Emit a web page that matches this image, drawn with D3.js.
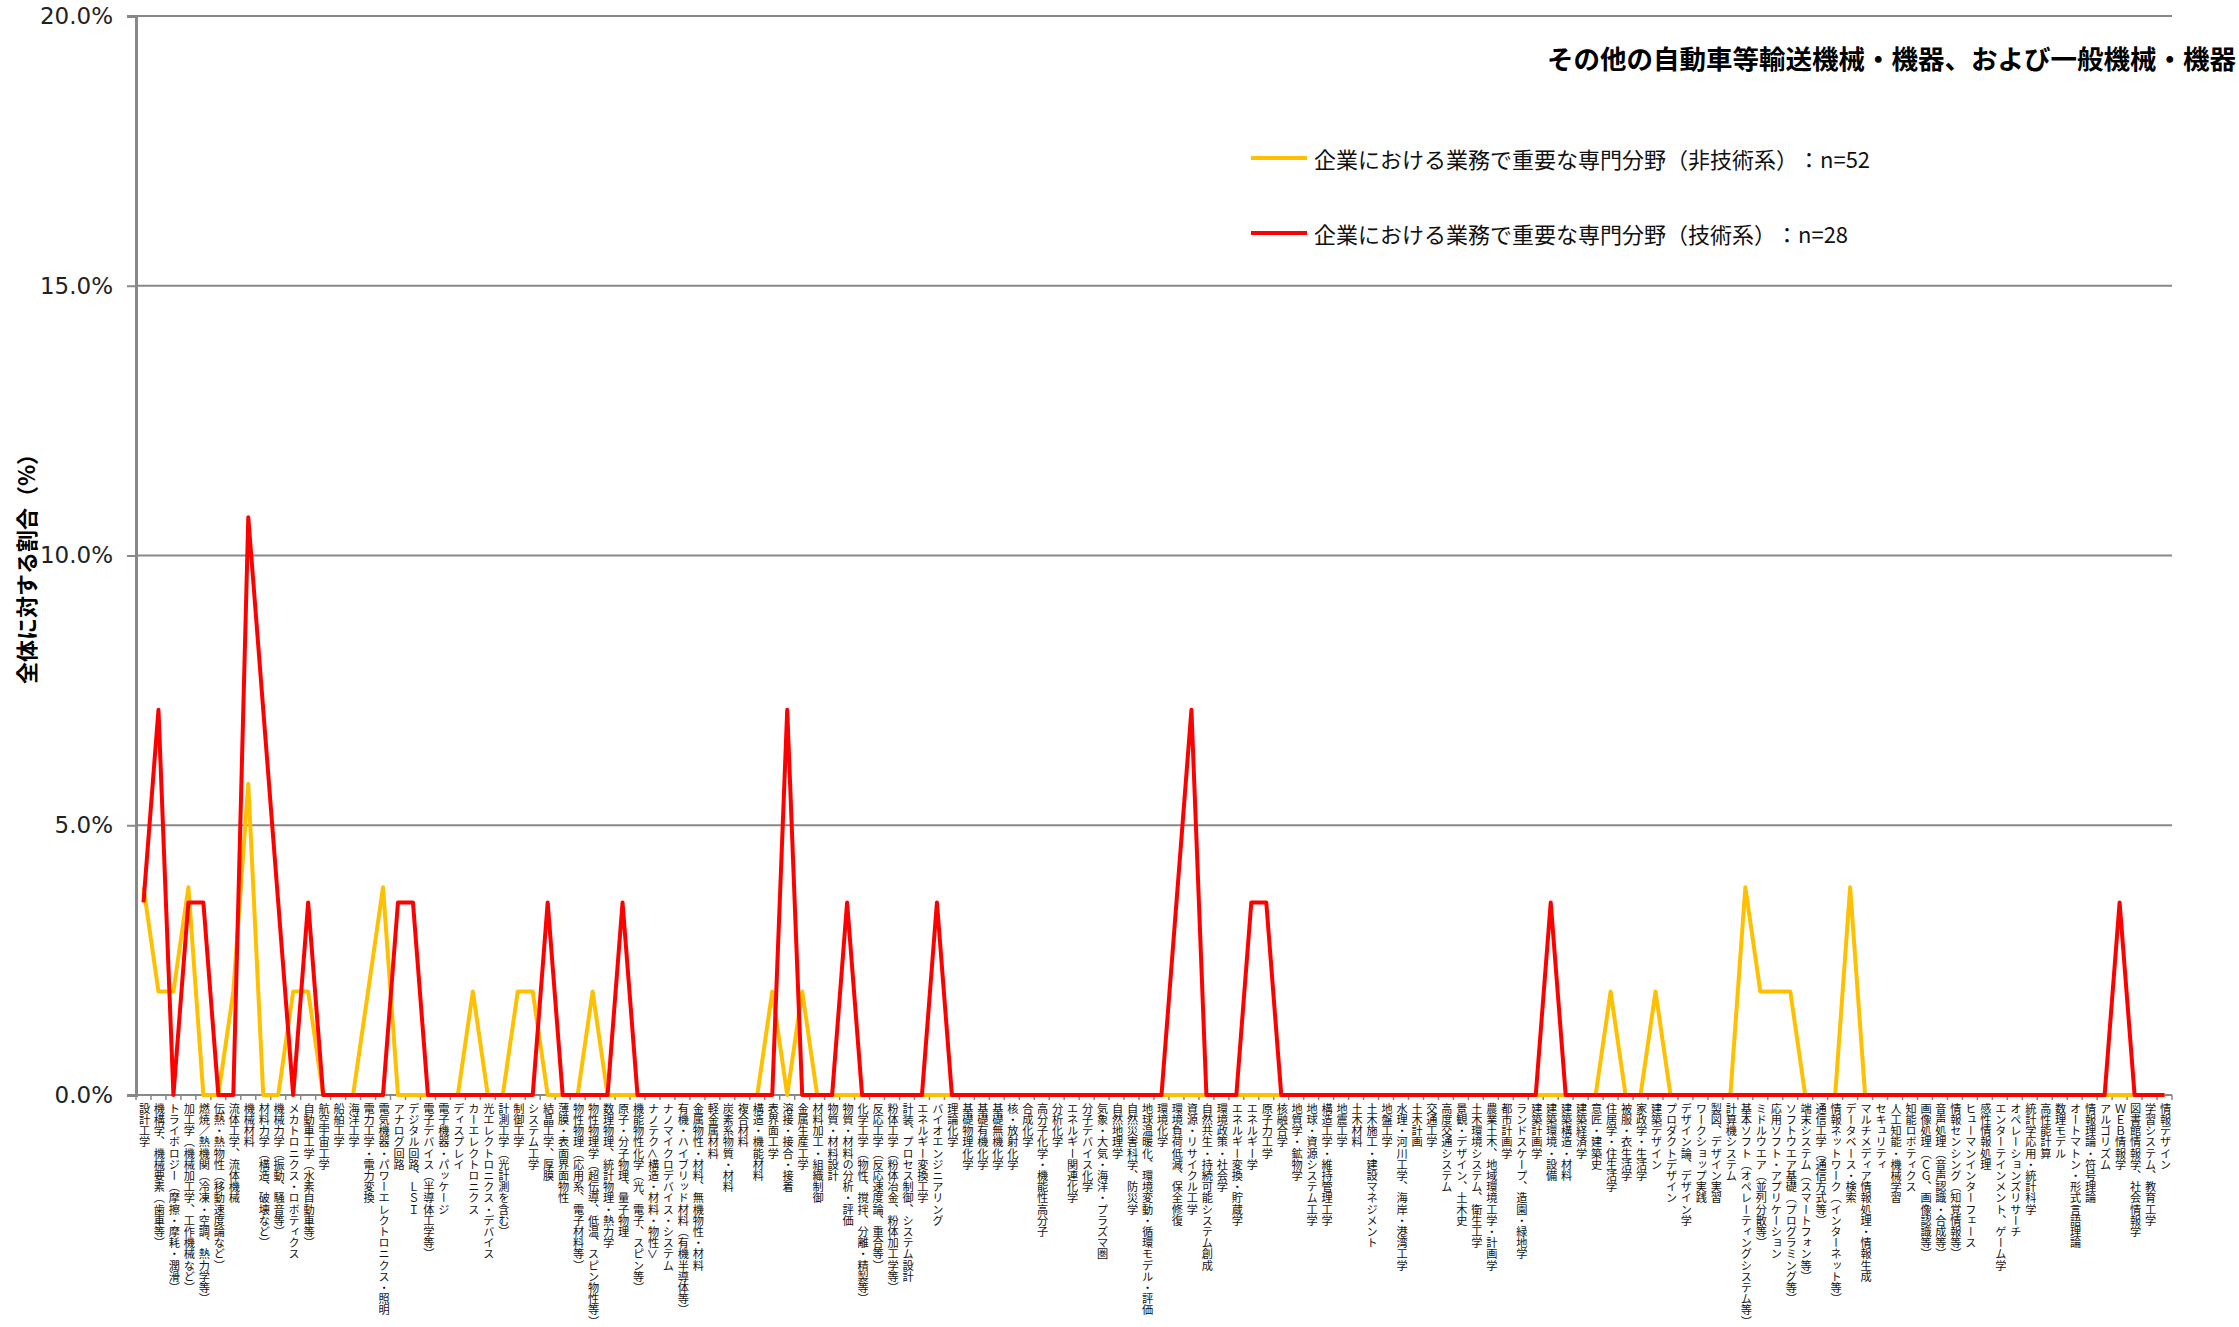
<!DOCTYPE html>
<html>
<head>
<meta charset="utf-8">
<script src="https://cdn.jsdelivr.net/npm/d3@7"></script>
<style>
  html, body { margin: 0; padding: 0; background: #ffffff; }
  svg { display: block; }
  svg text { text-spacing-trim: space-all; }
  .xlab { writing-mode: vertical-rl; text-orientation: mixed; }
</style>
</head>
<body>
<svg id="chart" width="2239" height="1327"></svg>
<script>
const categories = [
  "設計工学","機構学、機械要素（歯車等）","トライボロジー（摩擦・摩耗・潤滑）","加工学（機械加工学、工作機械など）",
  "燃焼／熱機関（冷凍・空調、熱力学等）","伝熱・熱物性（移動速度論など）","流体工学、流体機械","機械材料",
  "材料力学（構造、破壊など）","機械力学（振動、騒音等）","メカトロニクス・ロボティクス","自動車工学（水素自動車等）",
  "航空宇宙工学","船舶工学","海洋工学","電力工学・電力変換","電気機器・パワーエレクトロニクス・照明",
  "アナログ回路","デジタル回路、ＬＳＩ","電子デバイス（半導体工学等）","電子機器・パッケージ","ディスプレイ",
  "カーエレクトロニクス","光エレクトロニクス・デバイス","計測工学（光計測を含む）","制御工学","システム工学",
  "結晶工学、厚膜","薄膜・表面界面物性","物性物理（応用系、電子材料等）","物性物理学（超伝導、低温、スピン物性等）",
  "数理物理、統計物理・熱力学","原子・分子物理、量子物理","機能物性化学（光、電子、スピン等）",
  "ナノテク＜構造・材料・物性＞","ナノマイクロデバイス・システム","有機・ハイブリッド材料（有機半導体等）",
  "金属物性・材料、無機物性・材料","軽金属材料","炭素系物質・材料","複合材料","構造・機能材料","表界面工学",
  "溶接・接合・接着","金属生産工学","材料加工・組織制御","物質・材料設計","物質・材料の分析・評価",
  "化学工学（物性、撹拌、分離・精製等）","反応工学（反応速度論、重合等）","粉体工学（粉体冶金、粉体加工学等）",
  "計装、プロセス制御、システム設計","エネルギー変換工学","バイオエンジニアリング","理論化学","基礎物理化学",
  "基礎有機化学","基礎無機化学","核・放射化学","合成化学","高分子化学・機能性高分子","分析化学",
  "エネルギー関連化学","分子デバイス化学","気象・大気・海洋・プラズマ圏","自然地理学","自然災害科学、防災学",
  "地球温暖化、環境変動・循環モデル・評価","環境化学","環境負荷低減、保全修復","資源・リサイクル工学",
  "自然共生・持続可能システム創成","環境政策・社会学","エネルギー変換・貯蔵学","エネルギー学","原子力工学",
  "核融合学","地質学・鉱物学","地球・資源システム工学","構造工学・維持管理工学","地震工学","土木材料",
  "土木施工・建設マネジメント","地盤工学","水理・河川工学、海岸・港湾工学","土木計画","交通工学",
  "高度交通システム","景観・デザイン、土木史","土木環境システム、衛生工学","農業土木、地域環境工学・計画学",
  "都市計画学","ランドスケープ、造園・緑地学","建築計画学","建築環境・設備","建築構造・材料","建築経済学",
  "意匠・建築史","住居学・住生活学","被服・衣生活学","家政学・生活学","建築デザイン","プロダクトデザイン",
  "デザイン論、デザイン学","ワークショップ実践","製図、デザイン実習","計算機システム",
  "基本ソフト（オペレーティングシステム等）","ミドルウエア（並列分散等）","応用ソフト・アプリケーション",
  "ソフトウエア基礎（プログラミング等）","端末システム（スマートフォン等）","通信工学（通信方式等）",
  "情報ネットワーク（インターネット等）","データベース・検索","マルチメディア情報処理・情報生成","セキュリティ",
  "人工知能・機械学習","知能ロボティクス","画像処理（ＣＧ、画像認識等）","音声処理（音声認識・合成等）",
  "情報センシング（知覚情報等）","ヒューマンインターフェース","感性情報処理","エンターテインメント、ゲーム学",
  "オペレーションズリサーチ","統計学応用・統計科学","高性能計算","数理モデル","オートマトン・形式言語理論",
  "情報理論・符号理論","アルゴリズム","ＷＥＢ情報学","図書館情報学、社会情報学","学習システム、教育工学","情報デザイン"
];

// 企業における業務で重要な専門分野（非技術系）：n=52  (%)
const nonTechPct = [
  3.85,1.92,1.92,3.85,0,0,1.92,5.77,0,0,1.92,1.92,0,0,0,1.92,3.85,
  0,0,0,0,0,1.92,0,0,1.92,1.92,0,0,0,1.92,0,0,0,
  0,0,0,0,0,0,0,0,1.92,0,1.92,0,0,0,0,0,0,
  0,0,0,0,0,0,0,0,0,0,0,0,0,0,0,0,0,
  0,0,0,0,0,0,0,0,0,0,0,0,0,0,0,0,0,
  0,0,0,0,0,0,0,0,0,0,0,0,0,1.92,0,0,1.92,
  0,0,0,0,0,3.85,1.92,1.92,1.92,0,0,0,3.85,0,0,0,0,
  0,0,0,0,0,0,0,0,0,0,0,0,0,0,0,0,0
];

// 企業における業務で重要な専門分野（技術系）：n=28  (%)
const techPct = [
  3.57,7.14,0,3.57,3.57,0,0,10.71,7.14,3.57,0,3.57,0,0,0,0,0,
  3.57,3.57,0,0,0,0,0,0,0,0,3.57,0,0,0,0,3.57,0,
  0,0,0,0,0,0,0,0,0,7.14,0,0,0,3.57,0,0,0,
  0,0,3.57,0,0,0,0,0,0,0,0,0,0,0,0,0,0,
  0,3.57,7.14,0,0,0,3.57,3.57,0,0,0,0,0,0,0,0,0,
  0,0,0,0,0,0,0,0,0,3.57,0,0,0,0,0,0,0,
  0,0,0,0,0,0,0,0,0,0,0,0,0,0,0,0,0,
  0,0,0,0,0,0,0,0,0,0,0,0,0,3.57,0,0,0
];

const yTicks = [0, 5, 10, 15, 20];
const seriesNames = [
  "企業における業務で重要な専門分野（非技術系）：n=52",
  "企業における業務で重要な専門分野（技術系）：n=28"
];
const seriesColors = ["#FFC000", "#FF0000"];
const chartTitle = "その他の自動車等輸送機械・機器、および一般機械・機器";
const yTitle = "全体に対する割合（%）";

const svg = d3.select("#chart");
const mLeft = 136, mRight = 2172, mTop = 16, mBottom = 1095;
const gray = "#888888";

const x = d3.scaleBand().domain(categories).range([mLeft, mRight]).padding(0);
const y = d3.scaleLinear().domain([0, 20]).range([mBottom, mTop]);
const cx = c => x(c) + x.bandwidth() / 2;

// gridlines
svg.append("g").selectAll("line").data(yTicks.filter(t => t > 0)).join("line")
  .attr("x1", mLeft).attr("x2", mRight)
  .attr("y1", d => y(d)).attr("y2", d => y(d))
  .attr("stroke", gray).attr("stroke-width", 2);

// y axis
const yAxis = svg.append("g").attr("transform", `translate(${mLeft},0)`)
  .call(d3.axisLeft(y).tickValues(yTicks).tickSize(9).tickPadding(14)
    .tickFormat(d => d.toFixed(1) + "%"));
yAxis.select(".domain").attr("stroke", gray).attr("stroke-width", 3);
yAxis.selectAll(".tick line").attr("stroke", gray).attr("stroke-width", 2);
yAxis.selectAll(".tick text")
  .attr("font-family", "Verdana, 'DejaVu Sans', sans-serif")
  .attr("font-size", 23).attr("fill", "#222");

// x axis line + boundary ticks
svg.append("line").attr("x1", mLeft).attr("x2", mRight).attr("y1", mBottom).attr("y2", mBottom)
  .attr("stroke", gray).attr("stroke-width", 2);
const bounds = categories.map(c => x(c)).concat([mRight]);
svg.append("g").selectAll("line").data(bounds).join("line")
  .attr("x1", d => d).attr("x2", d => d)
  .attr("y1", mBottom).attr("y2", mBottom + 5)
  .attr("stroke", gray).attr("stroke-width", 1.5);

// x labels (vertical writing)
svg.append("g").selectAll("text").data(categories).join("text")
  .attr("class", "xlab")
  .attr("x", d => cx(d) + 1)
  .attr("y", mBottom + 8)
  .attr("font-family", "'Noto Sans CJK JP', sans-serif")
  .attr("font-size", 11.2)
  .attr("fill", "#111")
  .text(d => d);

// lines
const line = d3.line().x(d => cx(d.c)).y(d => y(d.v));
[nonTechPct, techPct].forEach((arr, i) => {
  const pts = categories.map((c, k) => ({ c, v: arr[k] }));
  svg.append("path").datum(pts)
    .attr("d", line)
    .attr("fill", "none")
    .attr("stroke", seriesColors[i])
    .attr("stroke-width", 4)
    .attr("stroke-linejoin", "round");
});

// title
svg.append("text")
  .attr("x", 2236).attr("y", 57)
  .attr("text-anchor", "end")
  .attr("dominant-baseline", "central")
  .attr("font-family", "'Noto Sans CJK JP', sans-serif")
  .attr("font-weight", 700)
  .attr("font-size", 26.5)
  .attr("fill", "#000")
  .text(chartTitle);

// legend
const legY = [158, 233];
const lg = svg.append("g");
lg.selectAll("line").data(seriesNames).join("line")
  .attr("x1", 1251).attr("x2", 1307)
  .attr("y1", (d, i) => legY[i]).attr("y2", (d, i) => legY[i])
  .attr("stroke", (d, i) => seriesColors[i]).attr("stroke-width", 4);
lg.selectAll("text").data(seriesNames).join("text")
  .attr("x", 1314).attr("y", (d, i) => legY[i])
  .attr("dominant-baseline", "central")
  .attr("font-family", "'Noto Sans CJK JP', sans-serif")
  .attr("font-size", 22)
  .attr("fill", "#111")
  .text(d => d);

// y title
svg.append("text")
  .attr("transform", `translate(25,${(mTop + mBottom) / 2 + 8}) rotate(-90)`)
  .attr("text-anchor", "middle")
  .attr("dominant-baseline", "central")
  .attr("font-family", "'Noto Sans CJK JP', sans-serif")
  .attr("font-weight", 700)
  .attr("font-size", 22)
  .attr("fill", "#000")
  .text(yTitle);
</script>
</body>
</html>
